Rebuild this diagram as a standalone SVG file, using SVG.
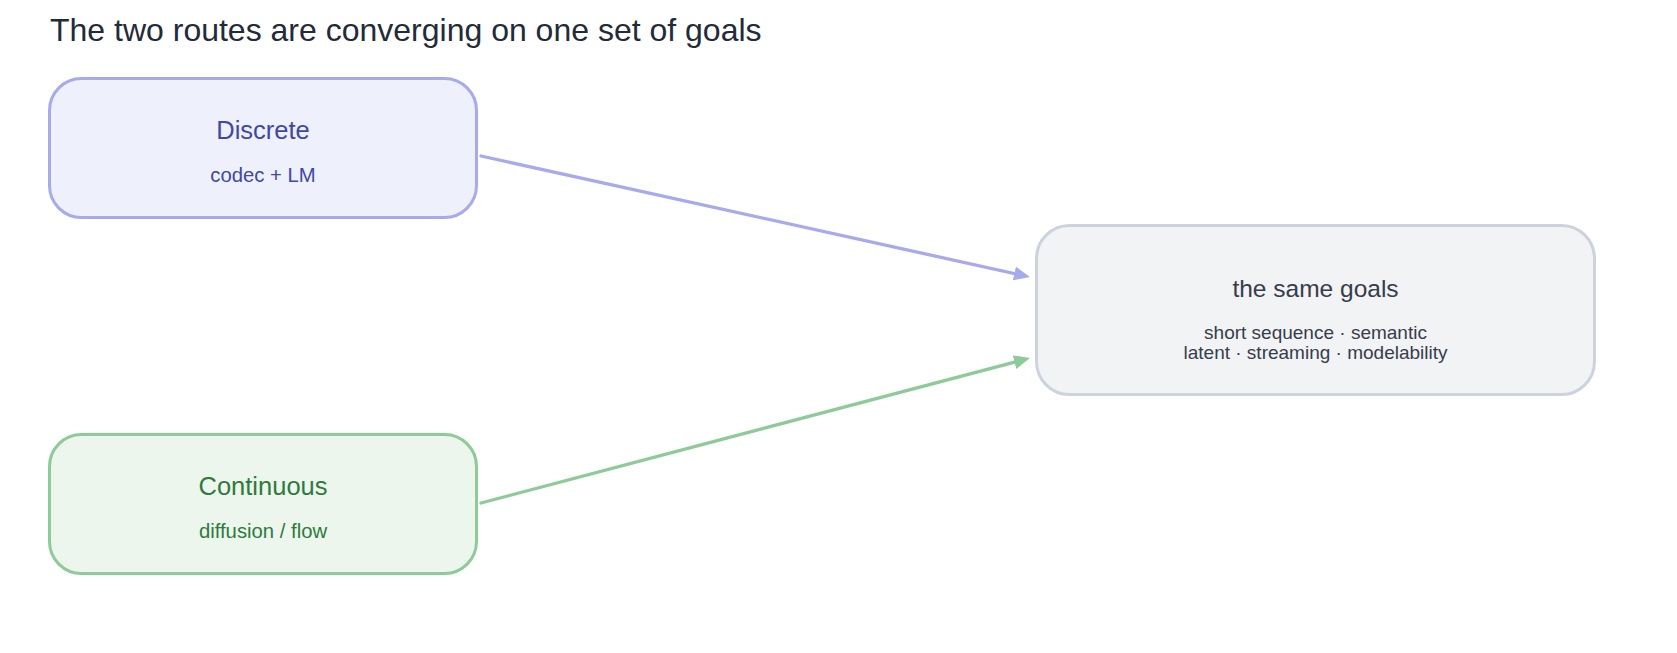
<svg xmlns="http://www.w3.org/2000/svg" width="1677" height="653" viewBox="0 0 1677 653">
  <style>
    text { font-family: "Liberation Sans", Arial, sans-serif; text-anchor: middle; }
    .title { font-size: 32px; fill: #232b3a; text-anchor: start; }
    .head { font-size: 25.5px; }
    .sub { font-size: 20.3px; }
    .blue rect { fill: #eef0fc; stroke: #a7aaec; stroke-width: 3; }
    .blue text { fill: #4147a9; }
    .green rect { fill: #ecf6ed; stroke: #8ecb99; stroke-width: 3; }
    .green text { fill: #2f7a3c; }
    .grey rect { fill: #f2f3f5; stroke: #cdd3dc; stroke-width: 3; }
    .grey text { fill: #363d4b; }
    .edge { fill: none; stroke-width: 3.3; stroke-linecap: round; }
  </style>
  <defs>
    <marker id="ab" viewBox="0 0 16 14" refX="4" refY="7" markerWidth="16" markerHeight="14" markerUnits="userSpaceOnUse" orient="auto">
      <path d="M0,0 L16,7 L0,14 z" fill="#a7aaec"/>
    </marker>
    <marker id="ag" viewBox="0 0 16 14" refX="4" refY="7" markerWidth="16" markerHeight="14" markerUnits="userSpaceOnUse" orient="auto">
      <path d="M0,0 L16,7 L0,14 z" fill="#8ecb99"/>
    </marker>
  </defs>
  <rect width="1677" height="653" fill="#ffffff"/>
  <text class="title" x="50" y="41">The two routes are converging on one set of goals</text>
  <g id="connectors">
    <path class="edge" d="M481,156 L1018.3,274.4" stroke="#a7aaec" marker-end="url(#ab)"/>
    <path class="edge" d="M481,503 L1018.4,361.1" stroke="#8ecb99" marker-end="url(#ag)"/>
  </g>
  <g id="discrete" class="blue">
    <rect x="49.5" y="78.5" width="427" height="139" rx="32"/>
    <text class="head" x="263" y="139">Discrete</text>
    <text class="sub" x="263" y="182">codec + LM</text>
  </g>
  <g id="continuous" class="green">
    <rect x="49.5" y="434.5" width="427" height="139" rx="32"/>
    <text class="head" x="263" y="495">Continuous</text>
    <text class="sub" x="263" y="538">diffusion / flow</text>
  </g>
  <g id="goals" class="grey">
    <rect x="1036.5" y="225.5" width="558" height="169" rx="33"/>
    <text class="head" x="1315.5" y="297" style="font-size:24.5px">the same goals</text>
    <text class="sub" x="1315.5" y="339" style="font-size:19px">short sequence · semantic</text>
    <text class="sub" x="1315.5" y="359" style="font-size:19px">latent · streaming · modelability</text>
  </g>
</svg>
